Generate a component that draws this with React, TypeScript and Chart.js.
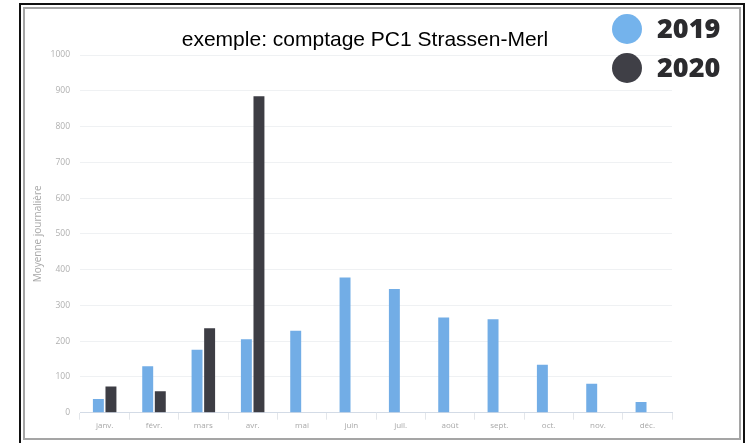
import React, { useEffect, useRef } from "react";
import { Chart, registerables } from "chart.js";

Chart.register(...registerables);

const TITLE = "exemple: comptage PC1 Strassen-Merl";
const Y_TITLE = "Moyenne journalière";
const months = ["janv.", "févr.", "mars", "avr.", "mai", "juin", "juil.", "août", "sept.", "oct.", "nov.", "déc."];
const seriesLabels = ["2019", "2020"];
const values2019 = [38, 130, 176, 205, 229, 378, 346, 266, 261, 134, 81, 30];
const values2020: (number | null)[] = [73, 60, 236, 885, null, null, null, null, null, null, null, null];
const Y_MIN = 0;
const Y_MAX = 1000;
const Y_STEP = 100;

const barColors = ["#72ade6", "#3d3d44"];
const legendColors = ["#74b3ec", "#3f3f46"];

const overlayPlugin = {
  id: "overlay",
  afterDraw(chart: any) {
    const ctx = chart.ctx as CanvasRenderingContext2D;
    ctx.save();
    ctx.fillStyle = "#000";
    ctx.font = "21px 'Liberation Sans', Arial, sans-serif";
    ctx.textAlign = "center";
    ctx.textBaseline = "alphabetic";
    ctx.fillText(TITLE, 365, 46);
    chart.data.datasets.forEach((ds: any, i: number) => {
      const cy = 29 + i * 39;
      ctx.beginPath();
      ctx.arc(627, cy, 15, 0, Math.PI * 2);
      ctx.fillStyle = legendColors[i];
      ctx.fill();
      ctx.font = "800 27px 'Open Sans', sans-serif";
      ctx.fillStyle = "#2b2b2e";
      ctx.textAlign = "left";
      ctx.textBaseline = "middle";
      ctx.fillText(ds.label, 657, cy + 1);
    });
    ctx.restore();
  },
};

export default function App() {
  const ref = useRef<HTMLCanvasElement | null>(null);
  useEffect(() => {
    if (!ref.current) return;
    const chart = new Chart(ref.current, {
      type: "bar",
      data: {
        labels: months,
        datasets: [
          { label: seriesLabels[0], data: values2019, backgroundColor: barColors[0], categoryPercentage: 0.51, barPercentage: 0.87 },
          { label: seriesLabels[1], data: values2020 as any, backgroundColor: barColors[1], categoryPercentage: 0.51, barPercentage: 0.87 },
        ],
      },
      options: {
        animation: false,
        responsive: false,
        layout: { padding: { left: 28, right: 74, top: 55, bottom: 4 }, autoPadding: false } as any,
        plugins: { legend: { display: false }, title: { display: false }, tooltip: { enabled: false } },
        scales: {
          x: {
            afterFit: (s: any) => { s.height = 26.3; },
            grid: { display: true, drawOnChartArea: false, offset: true, tickLength: 7, color: "#e3e6ea" },
            border: { display: true, color: "#d3dbe6" },
            ticks: { color: "#a8a8a8", font: { size: 8, family: "'Open Sans', sans-serif" }, padding: 1, maxRotation: 0 },
          },
          y: {
            min: Y_MIN,
            max: Y_MAX,
            afterFit: (s: any) => { s.width = 52; },
            grid: { color: "#eff1f3", drawTicks: false },
            border: { display: false },
            ticks: {
              stepSize: Y_STEP,
              color: "#b0b0b0",
              font: { size: 8.5, family: "'Open Sans', sans-serif" },
              padding: 10,
              callback: (v: any) => String(v),
            },
            title: { display: true, text: Y_TITLE, color: "#a8a8a8", font: { size: 10, family: "'Open Sans', sans-serif" }, padding: { top: 4, bottom: 0 } },
          },
        },
      },
      plugins: [overlayPlugin],
    });
    return () => chart.destroy();
  }, []);

  return (
    <div style={{ position: "absolute", left: 0, top: 0, width: 746, height: 443, background: "#fff", overflow: "hidden" }}>
      <div style={{ position: "absolute", left: 19, top: 3, width: 726, height: 442, border: "2px solid #111", boxSizing: "border-box" }} />
      <div style={{ position: "absolute", left: 23, top: 7, width: 718, height: 433, border: "2px solid #a5a5a5", boxSizing: "border-box" }} />
      <canvas ref={ref} width={746} height={443} style={{ position: "absolute", left: 0, top: 0 }} />
    </div>
  );
}
